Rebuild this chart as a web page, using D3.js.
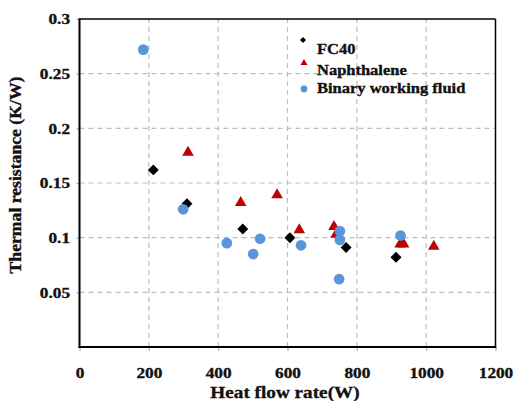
<!DOCTYPE html>
<html>
<head>
<meta charset="utf-8">
<script src="https://cdn.jsdelivr.net/npm/d3@7"></script>
<style>
  html, body { margin: 0; padding: 0; background: #fff; }
  svg { display: block; font-family: "Liberation Serif", "Times New Roman", serif; }
  svg text { stroke: #111; stroke-width: 0.35px; }
</style>
</head>
<body>
<svg id="chart" width="515" height="401"></svg>
<script>
// Heat flow rate (W) and thermal resistance (K/W) for each working fluid
const fc40Q = [213, 310, 471, 607, 769, 913];
const fc40R = [0.162, 0.131, 0.108, 0.100, 0.091, 0.082];

const naphQ = [313, 465, 570, 634, 734, 740, 925, 935, 1022];
const naphR = [0.178, 0.132, 0.139, 0.107, 0.110, 0.103, 0.094, 0.094, 0.092];

const binaryQ = [184, 299, 425, 501, 521, 639, 751, 751, 749, 926];
const binaryR = [0.272, 0.126, 0.095, 0.085, 0.099, 0.093, 0.106, 0.098, 0.062, 0.102];

const xTicks = [0, 200, 400, 600, 800, 1000, 1200];
const yTicks = [0.05, 0.1, 0.15, 0.2, 0.25, 0.3];
const yTickLabels = ["0.05", "0.1", "0.15", "0.2", "0.25", "0.3"];

const seriesNames = ["FC40", "Naphthalene", "Binary working fluid"];
const xTitle = "Heat flow rate(W)";
const yTitle = "Thermal resistance (K/W)";

const svg = d3.select("#chart");
const W = 515, H = 401;
const m = { left: 79.5, right: 19.5, top: 19, bottom: 54 };

svg.append("rect").attr("width", W).attr("height", H).attr("fill", "#fff");

const x = d3.scaleLinear().domain([0, 1200]).range([m.left, W - m.right]);
const y = d3.scaleLinear().domain([0, 0.3]).range([H - m.bottom, m.top]);

// horizontally widened bold text helper
function widen(sel, k) {
  sel.each(function () {
    const t = d3.select(this);
    const x0 = +t.attr("x") || 0;
    t.attr("x", x0 / k).attr("transform", `scale(${k},1)`);
  });
}

// dashed grid
const grid = svg.append("g").attr("stroke", "#bdbdbd").attr("stroke-width", 1.2)
  .attr("stroke-dasharray", "5,4").attr("fill", "none");
grid.selectAll("line.v").data(xTicks.slice(1, -1)).join("line").attr("class", "v")
  .attr("x1", d => x(d)).attr("x2", d => x(d))
  .attr("y1", y(0)).attr("y2", y(0.3));
grid.selectAll("line.h").data(yTicks.slice(0, -1)).join("line").attr("class", "h")
  .attr("x1", x(0)).attr("x2", x(1200))
  .attr("y1", d => y(d)).attr("y2", d => y(d));

// axes
const xAxis = svg.append("g")
  .attr("transform", `translate(0,${y(0)})`)
  .call(d3.axisBottom(x).tickValues(xTicks).tickFormat(d3.format("d"))
    .tickSizeInner(4).tickSizeOuter(0).tickPadding(16));
xAxis.select(".domain").remove();
xAxis.selectAll(".tick line").attr("stroke", "#aaa").attr("stroke-width", 1.2);
xAxis.selectAll(".tick text").attr("fill", "#111").attr("font-size", 15)
  .attr("font-weight", "bold").attr("font-family", "Liberation Serif")
  .call(widen, 1.15);

const yAxis = svg.append("g")
  .attr("transform", `translate(${x(0)},0)`)
  .call(d3.axisLeft(y).tickValues(yTicks).tickFormat((d, i) => yTickLabels[i])
    .tickSizeInner(3).tickSizeOuter(0).tickPadding(6.5));
yAxis.select(".domain").remove();
yAxis.selectAll(".tick line").attr("stroke", "#aaa").attr("stroke-width", 1.2);
yAxis.selectAll(".tick text").attr("fill", "#111").attr("font-size", 15)
  .attr("font-weight", "bold").attr("font-family", "Liberation Serif")
  .call(widen, 1.15);

// plot frame
svg.append("line").attr("x1", x(0)).attr("x2", x(1200)).attr("y1", y(0.3)).attr("y2", y(0.3))
  .attr("stroke", "#000").attr("stroke-width", 1.5);
svg.append("line").attr("x1", x(1200)).attr("x2", x(1200)).attr("y1", y(0.3)).attr("y2", y(0))
  .attr("stroke", "#000").attr("stroke-width", 1.5);
svg.append("line").attr("x1", x(0)).attr("x2", x(0)).attr("y1", y(0.3) - 0.75).attr("y2", y(0) + 1)
  .attr("stroke", "#000").attr("stroke-width", 2);
svg.append("line").attr("x1", x(0) - 1).attr("x2", x(1200) + 0.75).attr("y1", y(0)).attr("y2", y(0))
  .attr("stroke", "#000").attr("stroke-width", 2);

// markers
const BLUE = "#5a94da", RED = "#c00000", BLACK = "#000";
const diamond = d3.symbol().type(d3.symbolSquare).size(60);
const triangle = d3.symbol().type(d3.symbolTriangle).size(58);
const circle = d3.symbol().type(d3.symbolCircle).size(90);

const fc40 = fc40Q.map((q, i) => [q, fc40R[i]]);
const naph = naphQ.map((q, i) => [q, naphR[i]]);
const binary = binaryQ.map((q, i) => [q, binaryR[i]]);

svg.append("g").selectAll("path").data(fc40).join("path")
  .attr("d", diamond).attr("fill", BLACK)
  .attr("transform", d => `translate(${x(d[0])},${y(d[1])}) rotate(45)`);
svg.append("g").selectAll("path").data(naph).join("path")
  .attr("d", triangle).attr("fill", RED)
  .attr("transform", d => `translate(${x(d[0])},${y(d[1])})`);
svg.append("g").selectAll("path").data(binary).join("path")
  .attr("d", circle).attr("fill", BLUE)
  .attr("transform", d => `translate(${x(d[0])},${y(d[1])})`);

// legend
const legend = svg.append("g");
const legItems = [
  { name: seriesNames[0], sym: d3.symbol().type(d3.symbolSquare).size(18), color: BLACK, rot: 45, mx: 303, my: 40, ty: 54 },
  { name: seriesNames[1], sym: d3.symbol().type(d3.symbolTriangle).size(22), color: RED, rot: 0, mx: 304, my: 63, ty: 75 },
  { name: seriesNames[2], sym: d3.symbol().type(d3.symbolCircle).size(36), color: BLUE, rot: 0, mx: 304, my: 89, ty: 93.5 }
];
legItems.forEach(it => {
  legend.append("path").attr("d", it.sym).attr("fill", it.color)
    .attr("transform", `translate(${it.mx},${it.my}) rotate(${it.rot})`);
  legend.append("text").attr("x", 317).attr("y", it.ty)
    .attr("font-size", 15).attr("font-weight", "bold").attr("fill", "#111")
    .text(it.name).call(widen, 1.1);
});

// axis titles
svg.append("text")
  .attr("x", 285).attr("y", 398).attr("text-anchor", "middle")
  .attr("font-size", 17).attr("font-weight", "bold").attr("fill", "#111")
  .text(xTitle).call(widen, 1.13);

svg.append("g").attr("transform", "translate(21,175) rotate(-90)")
  .append("text").attr("x", 0).attr("y", 0).attr("text-anchor", "middle")
  .attr("font-size", 17).attr("font-weight", "bold").attr("fill", "#111")
  .text(yTitle).call(widen, 1.04);
</script>
</body>
</html>
